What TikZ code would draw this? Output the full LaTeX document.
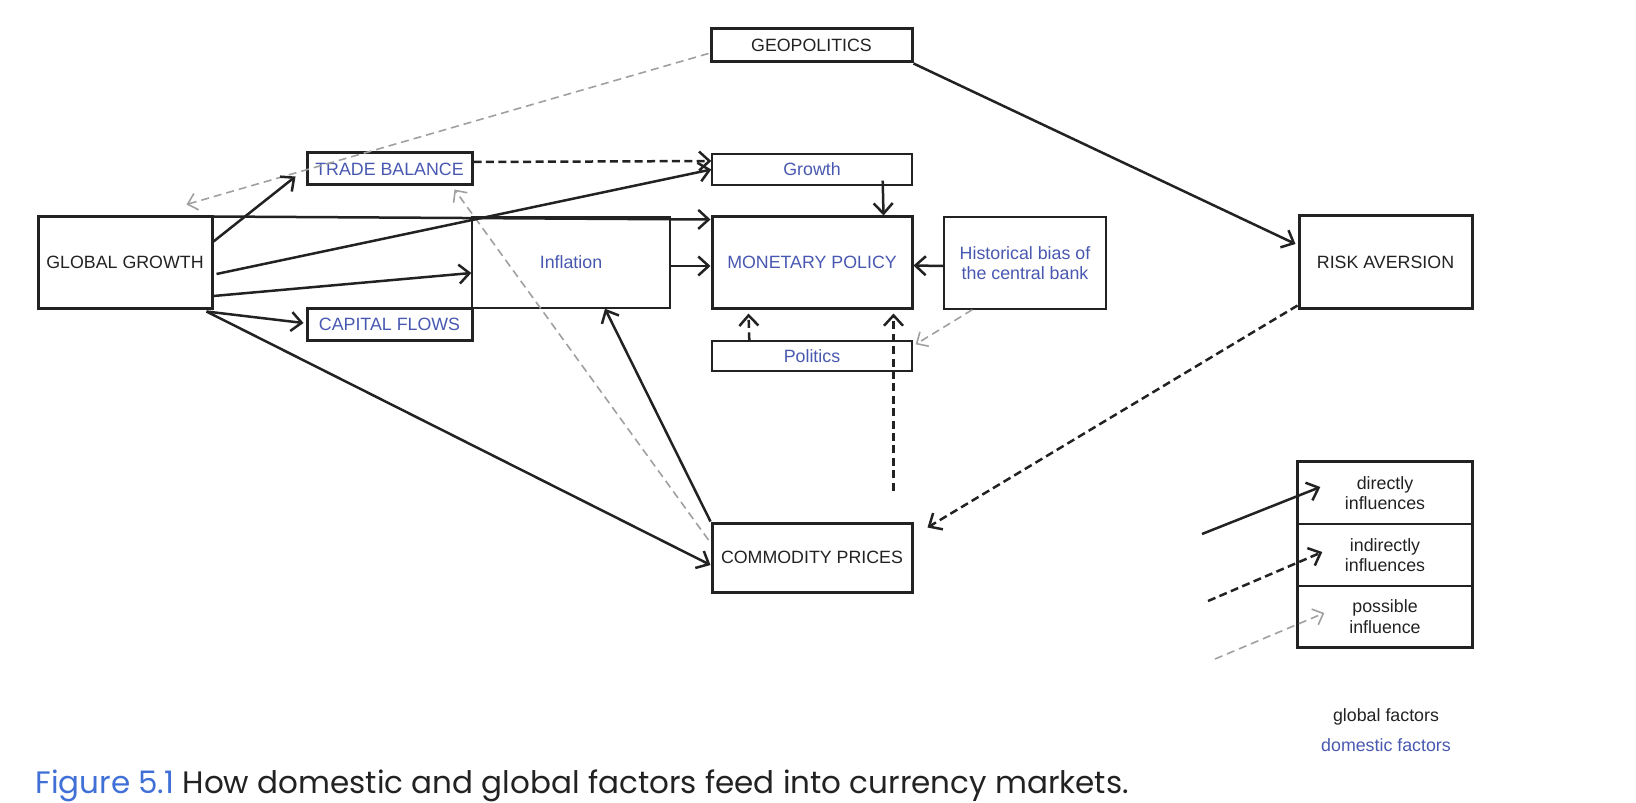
\documentclass[tikz,border=0pt]{standalone}
\usepackage{fontspec}
\setmainfont{Liberation Sans}
\newfontfamily\capfont{Poppins}
\usetikzlibrary{arrows.meta,calc}
\definecolor{dom}{RGB}{72,88,176}
\definecolor{capblue}{RGB}{64,112,214}
\definecolor{ink}{RGB}{34,34,34}
\definecolor{possible}{RGB}{160,160,160}
\tikzset{
  box/.style={draw=ink, line width=1.5pt, inner sep=0pt, align=center, text=ink,
    font=\fontsize{8.9}{10.3}\selectfont},
  thinbox/.style={box, line width=0.7pt},
  domtext/.style={text=dom},
  tip/.style={-{Straight Barb[length=5.2pt,width=9.5pt,line width=1.25pt]}},
  direct/.style={draw=ink, line width=1.25pt, tip},
  indirect/.style={draw=ink, line width=1.25pt, dash pattern=on 4pt off 2.2pt, tip},
  possib/.style={draw=possible, line width=0.8pt, dash pattern=on 4pt off 2.5pt,
    -{Straight Barb[length=4.5pt,width=8.5pt,line width=0.8pt]}},
  plain/.style={inner sep=0pt, text=ink, font=\fontsize{8.9}{10.3}\selectfont}
}
\begin{document}
\begin{tikzpicture}[x=0.5pt,y=-0.5pt]
\useasboundingbox (0,0) rectangle (1636,802);
% boxes
\node[box, minimum width=87pt, minimum height=45.5pt] (gg) at (125,262.5) {GLOBAL GROWTH};
\node[box, domtext, minimum width=82.5pt, minimum height=16pt] (tb) at (389.5,169) {TRADE BALANCE};
\node[box, domtext, minimum width=82.5pt, minimum height=16pt] (cf) at (389.5,324) {CAPITAL FLOWS};
\node[thinbox, domtext, minimum width=99pt, minimum height=45.5pt] (infl) at (571,262.5) {Inflation};
\node[box, domtext, minimum width=100pt, minimum height=45.5pt] (mp) at (812,262.5) {MONETARY POLICY};
\node[thinbox, domtext, minimum width=100pt, minimum height=15.5pt] (growth) at (812,169.5) {Growth};
\node[box, minimum width=100.5pt, minimum height=16.5pt] (geo) at (811.5,45.5) {GEOPOLITICS};
\node[thinbox, domtext, minimum width=100pt, minimum height=15pt] (pol) at (812,356) {Politics};
\node[thinbox, domtext, minimum width=81pt, minimum height=46pt] (hist) at (1025,263) {Historical bias of\\the central bank};
\node[box, minimum width=86.5pt, minimum height=46pt] (ra) at (1385.5,262) {RISK AVERSION};
\node[box, minimum width=100pt, minimum height=34.5pt] (cp) at (812,557.5) {COMMODITY PRICES};
% legend
\node[thinbox, minimum width=87pt, minimum height=31pt] (leg1) at (1385,493) {directly\\influences};
\node[thinbox, minimum width=87pt, minimum height=31pt] (leg2) at (1385,555) {indirectly\\influences};
\node[thinbox, minimum width=87pt, minimum height=30.5pt] (leg3) at (1385,616.5) {possible\\influence};
\draw[ink, line width=1.5pt] (leg1.north west) rectangle (leg3.south east);
\node[plain] (glob) at (1386,717) {global factors};
\node[plain, text=dom] (domf) at (1386,745) {domestic factors};
% caption
\node[inner sep=0pt, anchor=base west, font=\capfont\fontsize{15.5}{18}\selectfont] (cap) at (35,793)
  {\textcolor{capblue}{Figure 5.1} \textcolor{ink}{How domestic and global factors feed into currency markets.}};
% possible influences (grey)
\draw[possib] ($(geo.west)+(-1,8)$) -- ($(gg.north west)+(150,-11)$);
\draw[possib] ($(cp.west)+(-2,-17.5)$) -- ($(tb.south east)+(-19,3)$);
\draw[possib] ($(hist.south west)+(29,0)$) -- ($(pol.north east)+(3,4)$);
% direct influences
\draw[direct] ($(gg.north east)+(0,26)$) -- ($(tb.south west)+(-10,-10)$);
\draw[direct] ($(gg.north east)+(0,1)$) -- ($(mp.north west)+(0,4)$);
\draw[direct] ($(gg.east)+(3,11.5)$) -- (growth.west);
\draw[direct] ($(gg.east)+(0,33.5)$) -- ($(infl.west)+(0,10.5)$);
\draw[direct] ($(gg.south east)+(-7,2)$) -- ($(cf.west)+(-2,-1)$);
\draw[direct] ($(gg.south east)+(-7,2)$) -- ($(cp.west)+(0,7.5)$);
\draw[direct] (cp.north west) -- ($(infl.south)+(34,0)$);
\draw[direct] ($(infl.east)+(0,3.5)$) -- ($(mp.west)+(0,3.5)$);
\draw[direct] ($(growth.south east)+(-30,-5)$) -- ($(mp.north east)+(-30,0)$);
\draw[direct] ($(hist.west)+(0,3)$) -- ($(mp.east)+(0,3)$);
\draw[direct] (geo.south east) -- ($(ra.west)+(-2,-18)$);
% indirect influences
\coordinate (cpq) at ($(cp.north east)+(-20,-31)$);
\draw[indirect] ($(tb.east)+(0,-7)$) -- ($(growth.west)+(0,-8.5)$);
\draw[indirect] ($(pol.north west)+(38,0)$) -- ($(mp.south west)+(38,4)$);
\draw[indirect] (cpq) -- ($(mp.south east)+(-20,4)$);
\draw[indirect] ($(ra.south west)+(0,-4)$) -- ($(cp.north east)+(14,6)$);
% legend arrows
\coordinate (l1) at (1202,534);
\coordinate (l2) at (1208,601);
\coordinate (l3) at (1215,659);
\draw[direct] (l1) -- ($(leg1.west)+(23,-6)$);
\draw[indirect] (l2) -- ($(leg2.west)+(25,-3)$);
\draw[possib] (l3) -- ($(leg3.west)+(27,-3.5)$);
\end{tikzpicture}
\end{document}
